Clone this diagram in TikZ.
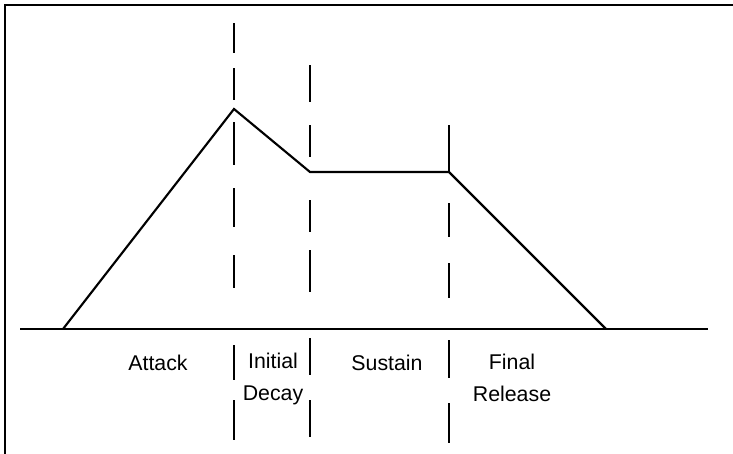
\documentclass[tikz,border=0pt]{standalone}
\usepackage{fontspec}
\setmainfont{Liberation Sans}
\usetikzlibrary{positioning}

\begin{document}
\begin{tikzpicture}[
    x=0.75pt, y=-0.75pt,
    env/.style={line width=1.6pt, line join=miter},
    guide/.style={line width=1.6pt},
    phase/.style={font=\fontsize{16}{24}\selectfont, align=center, inner sep=0pt}
  ]
    \useasboundingbox (0,0) rectangle (733,454);
    % frame (left and top edges only)
    \draw[line width=2pt] (5,454) -- (5,5) -- (733,5);

    % time axis
    \coordinate (axisL) at (20,329);
    \coordinate (axisR) at (708,329);
    \draw[env] (axisL) -- (axisR);

    % envelope
    \coordinate (start) at (63,329);
    \coordinate (peak) at (234,109);
    \coordinate (level) at (310,172);
    \coordinate (held) at (449,172);
    \coordinate (stop) at (606,329);
    \draw[env] (start) -- (peak) -- (level) -- (held) -- (stop);

    % phase boundaries
    \foreach \a/\b in {23/53, 68/100, 122/165, 188/227, 255/288, 345/380, 400/440}
      \draw[guide] (234,\a) -- (234,\b);
    \foreach \a/\b in {65/102, 125/157, 200/232, 250/292, 338/375, 400/437}
      \draw[guide] (310,\a) -- (310,\b);
    \foreach \a/\b in {125/172, 203/237, 263/298, 340/378, 403/443}
      \draw[guide] (449,\a) -- (449,\b);

    % phase names
    \node[phase] (attack) at (158,363) {Attack};
    \node[phase] (decay) at (273,379) {Initial\\Decay};
    \node[phase] (sustain) at (387,363) {Sustain};
    \node[phase] (release) at (512,378) {Final\\Release};
\end{tikzpicture}
\end{document}
